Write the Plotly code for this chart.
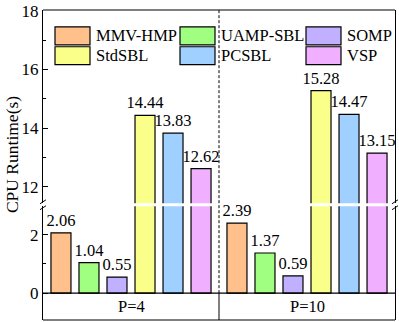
import plotly.graph_objects as go

# data
groups = ["P=4", "P=10"]
methods = ["MMV-HMP", "UAMP-SBL", "SOMP", "StdSBL", "PCSBL", "VSP"]
colors = ["#FFC08C", "#A0FF80", "#C0B0FF", "#FAFF8A", "#A0D0FF", "#F0B0FF"]
runtime = {
    "MMV-HMP": [2.06, 2.39],
    "UAMP-SBL": [1.04, 1.37],
    "SOMP": [0.55, 0.59],
    "StdSBL": [14.44, 15.28],
    "PCSBL": [13.83, 14.47],
    "VSP": [12.62, 13.15],
}

W, H = 399, 322
L, R, T, B = 43, 4, 8, 2
pw, ph = W - L - R, H - T - B

def px(x):
    return (x - L) / pw

def py(y):
    return (H - B - y) / ph

FONT = "Liberation Serif, Times New Roman, serif"
low_top, up_bot = 3.0, 11.44

fig = go.Figure()
for m, c in zip(methods, colors):
    vals = runtime[m]
    # lower part of the broken axis
    fig.add_trace(go.Bar(
        x=groups, y=vals, name=m, marker=dict(color=c, line=dict(color="black", width=1.2)),
        text=[f"{v:.2f}" if v < low_top else "" for v in vals],
        textposition="outside", constraintext="none", cliponaxis=False,
        textfont=dict(family=FONT, size=16.5, color="black"),
        xaxis="x", yaxis="y", showlegend=False))
    # upper part
    fig.add_trace(go.Bar(
        x=groups, y=vals, name=m, marker=dict(color=c, line=dict(color="black", width=1.2)),
        text=[f"{v:.2f}" if v > up_bot else "" for v in vals],
        textposition="outside", constraintext="none", cliponaxis=False,
        textfont=dict(family=FONT, size=16.5, color="black"),
        xaxis="x", yaxis="y2", showlegend=False))

shapes = []
annotations = []

# frame lines
shapes.append(dict(type="line", xref="paper", yref="paper", x0=0, x1=1, y0=1, y1=1,
                   line=dict(color="black", width=1.2)))
shapes.append(dict(type="line", xref="paper", yref="paper", x0=0, x1=1, y0=0, y1=0,
                   line=dict(color="black", width=1.2)))
shapes.append(dict(type="line", xref="paper", yref="y", x0=0, x1=1, y0=0, y1=0,
                   line=dict(color="black", width=1.2)))
# group separators
shapes.append(dict(type="line", xref="x", yref="y", x0=0.5, x1=0.5, y0=-0.92, y1=0,
                   line=dict(color="black", width=1)))
shapes.append(dict(type="line", xref="x", yref="paper", x0=0.5, x1=0.5, y0=py(293), y1=1,
                   line=dict(color="black", width=1, dash="3px,2px")))

# break marks
for xb in (L, W - R):
    for yb in (201, 207):
        shapes.append(dict(type="line", xref="paper", yref="paper",
                           x0=px(xb - 3), x1=px(xb + 3), y0=py(yb + 2), y1=py(yb - 2),
                           line=dict(color="black", width=1)))

# group labels
for g in groups:
    annotations.append(dict(x=g, y=-0.46, xref="x", yref="y", text=g, showarrow=False,
                            font=dict(family=FONT, size=16.5, color="black")))

# custom legend with big swatches
col_x = [55, 180, 306]
row_y = [25, 45]
for i, (m, c) in enumerate(zip(methods, colors)):
    x0 = col_x[i % 3]
    y0 = row_y[i // 3]
    shapes.append(dict(type="rect", xref="paper", yref="paper",
                       x0=px(x0), x1=px(x0 + 35), y0=py(y0 + 18), y1=py(y0),
                       fillcolor=c, line=dict(color="black", width=1.2)))
    annotations.append(dict(x=px(x0 + 39), y=py(y0 + 9), xref="paper", yref="paper",
                            text=m, showarrow=False, xanchor="left", yanchor="middle",
                            font=dict(family=FONT, size=16.5, color="black")))

# y title
annotations.append(dict(x=px(12), y=py(154), xref="paper", yref="paper", text="CPU Runtime(s)",
                        textangle=-90, showarrow=False, xanchor="center", yanchor="middle",
                        font=dict(family=FONT, size=17.5, color="black")))

axis_common = dict(showline=True, linecolor="black", linewidth=1.2, mirror=True,
                   ticks="inside", ticklen=5, tickcolor="black", showgrid=False, zeroline=False,
                   tickfont=dict(family=FONT, size=17, color="black"), ticklabeloverflow="allow",
                   minor=dict(ticks="inside", ticklen=3, dtick=1, tickcolor="black"))

fig.update_layout(
    width=W, height=H,
    margin=dict(l=L, r=R, t=T, b=B),
    paper_bgcolor="white", plot_bgcolor="white",
    barmode="group", bargap=0.045, bargroupgap=0.286,
    xaxis=dict(range=[-0.5, 1.5], showticklabels=False, ticks="", showline=False,
               showgrid=False, zeroline=False, anchor="y"),
    yaxis=dict(domain=[0, py(205.5)], range=[-0.915, 2.966], tickvals=[0, 2], **axis_common),
    yaxis2=dict(domain=[py(202.5), 1], range=[11.44, 18.03], tickvals=[12, 14, 16, 18],
                anchor="x", **axis_common),
    shapes=shapes, annotations=annotations,
)

# the default page has an 8px body margin; drop it so the figure fills the window
fig.write_html("out.html", config={"displayModeBar": False},
               post_script="document.body.style.margin='0';")
